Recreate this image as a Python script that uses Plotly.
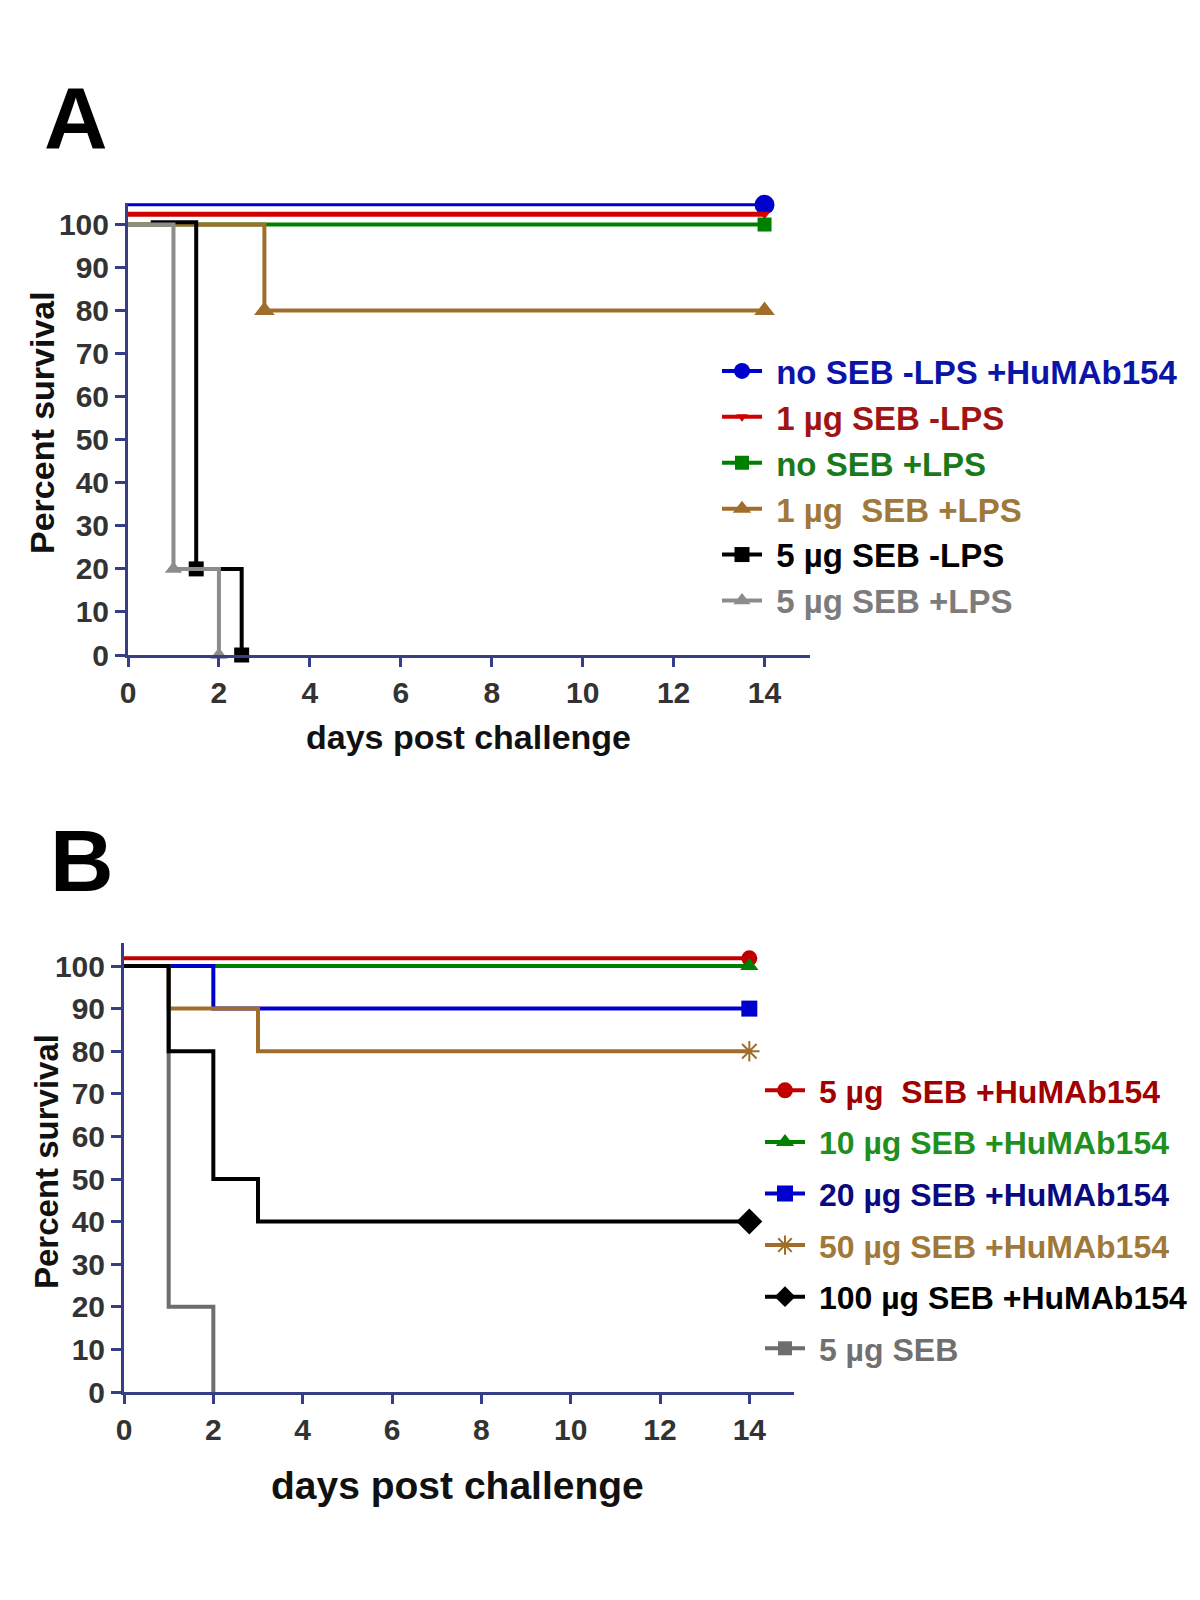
import plotly.graph_objects as go

# ---------------- Panel A data ----------------
a_labels = ["no SEB -LPS +HuMAb154", "1 µg SEB -LPS", "no SEB +LPS",
            "1 µg\u00a0\u00a0SEB +LPS", "5 µg SEB -LPS", "5 µg SEB +LPS"]
a_days = [[0, 14], [0, 14], [0, 14], [0, 3, 14], [0.5, 1.5, 2.5], [0, 1, 2]]
a_surv = [[104.6, 104.6], [102.4, 102.4], [100, 100], [100, 80, 80],
          [100.5, 20, 0], [100, 20, 0]]
a_mark = [[0, 1], [0, 1], [0, 1], [0, 1, 1], [0, 1, 1], [0, 1, 1]]

# ---------------- Panel B data ----------------
b_labels = ["5 µg\u00a0\u00a0SEB +HuMAb154", "10 µg SEB +HuMAb154", "20 µg SEB +HuMAb154",
            "50 µg SEB +HuMAb154", "100 µg SEB +HuMAb154", "5 µg SEB"]
b_days = [[0, 14], [0, 14], [0, 2, 14], [0, 1, 3, 14], [0, 1, 2, 3, 14], [0, 1, 2]]
b_surv = [[101.8, 101.8], [100, 100], [100, 90, 90], [100, 90, 80, 80],
          [100, 80, 50, 40, 40], [100, 20, 0]]
b_mark = [[0, 1], [0, 1], [0, 0, 1], [0, 0, 0, 1], [0, 0, 0, 0, 1], [0, 0, 0]]

x_ticks = [0, 2, 4, 6, 8, 10, 12, 14]
y_ticks = [0, 10, 20, 30, 40, 50, 60, 70, 80, 90, 100]

# ---------------- styles ----------------
a_line_col = ["#0000CC", "#D00000", "#008000", "#A06E2A", "#000000", "#8C8C8C"]
a_text_col = ["#0A14A8", "#A01414", "#1A7A1A", "#A0783A", "#000000", "#7C7C7C"]
a_sym = ["circle", "triangle-down", "square", "triangle-up", "square", "triangle-up"]
a_msize = [20, 10, 14, 18, 15, 15]
a_lw = [3, 5, 4, 4, 4, 4]

b_line_col = ["#C00000", "#008000", "#0000CC", "#A06E2A", "#000000", "#6E6E6E"]
b_text_col = ["#A00000", "#1F8F1F", "#0A0A80", "#A0783A", "#000000", "#707070"]
b_sym = ["circle", "triangle-up", "square", "asterisk-open", "diamond", "square"]
b_msize = [16, 16, 16, 17, 20, 14]
b_lw = [4, 4, 4, 4, 4, 4]
b_order = [0, 1, 2, 3, 5, 4]  # draw gray under black

AXC = "#373E88"
TICKC = "#333333"
FONT = "Liberation Sans, Arial, sans-serif"
W, H = 1200, 1600
OFF = 8  # page body margin


def px(x):
    return (x - OFF) / W


def py(y):
    return 1 - (y - OFF) / H


fig = go.Figure()


def add_panel(days, surv, mark, cols, syms, msz, lws, xa, ya, order):
    for i in order:
        sizes = [msz[i] if m else 0 for m in mark[i]]
        fig.add_trace(go.Scatter(
            x=days[i], y=surv[i], mode="lines+markers", line_shape="hv",
            line=dict(color=cols[i], width=lws[i]),
            marker=dict(symbol=syms[i], size=sizes, color=cols[i], opacity=1,
                        line=dict(width=2 if syms[i] == "asterisk-open" else 0, color=cols[i])),
            cliponaxis=False, showlegend=False, xaxis=xa, yaxis=ya, hoverinfo="skip"))


def add_legend(labels, tcols, cols, syms, msz, xa, ya, leg):
    for i, lab in enumerate(labels):
        fig.add_trace(go.Scatter(
            x=[None], y=[None], mode="lines+markers",
            line=dict(color=cols[i], width=4),
            marker=dict(symbol=syms[i], size=min(msz[i], 16), color=cols[i], opacity=1,
                        line=dict(width=2 if syms[i] == "asterisk-open" else 0, color=cols[i])),
            name=f"<span style='color:{tcols[i]}'>\u00a0{lab}</span>",
            legend=leg, legendgroup=f"{leg}{i}", xaxis=xa, yaxis=ya, showlegend=True))


add_panel(a_days, a_surv, a_mark, a_line_col, a_sym, a_msize, a_lw, "x", "y", range(6))
add_panel(b_days, b_surv, b_mark, b_line_col, b_sym, b_msize, b_lw, "x2", "y2", b_order)
add_legend(a_labels, a_text_col, a_line_col, a_sym, a_msize, "x", "y", "legend")
add_legend(b_labels, b_text_col, b_line_col, b_sym, b_msize, "x2", "y2", "legend2")


def xax(dom, anchor):
    return dict(domain=dom, range=[0, 15], anchor=anchor, showgrid=False, zeroline=False,
                showline=True, linecolor=AXC, linewidth=3, ticks="outside", ticklen=9,
                tickwidth=3, tickcolor=AXC, tickvals=x_ticks, automargin=False,
                tickfont=dict(family=FONT, size=30, color=TICKC, weight="bold"))


def yax(dom, anchor, top):
    return dict(domain=dom, range=[0, top], anchor=anchor, showgrid=False, zeroline=False,
                showline=True, linecolor=AXC, linewidth=3, ticks="outside", ticklen=10,
                tickwidth=3, tickcolor=AXC, tickvals=y_ticks, automargin=False,
                tickfont=dict(family=FONT, size=30, color=TICKC, weight="bold"))


ann = []


def pa(text, x, y, size, angle=0, color="#111111"):
    ann.append(dict(text=text, x=px(x), y=py(y), xref="paper", yref="paper",
                    showarrow=False, textangle=angle, xanchor="center", yanchor="middle",
                    font=dict(family=FONT, size=size, color=color, weight="bold")))


pa("A", 76, 118, 88, color="#000000")
pa("B", 82, 860, 88, color="#000000")
pa("Percent survival", 42, 423, 34, -90)
pa("days post challenge", 468, 737, 34)
pa("Percent survival", 46, 1162, 33, -90)
pa("days post challenge", 457, 1485, 39)

fig.update_layout(
    width=W, height=H, autosize=False,
    margin=dict(l=0, r=0, t=0, b=0, autoexpand=False),
    paper_bgcolor="white", plot_bgcolor="white",
    xaxis=xax([px(128), px(810)], "y"),
    yaxis=yax([py(655), py(203)], "x", 105),
    xaxis2=xax([px(124), px(794)], "y2"),
    yaxis2=yax([py(1392), py(943)], "x2", 105.4),
    legend=dict(x=px(717), y=py(343), xanchor="left", yanchor="top",
                font=dict(family=FONT, size=33, weight="bold"),
                bgcolor="rgba(0,0,0,0)", tracegroupgap=0,
                traceorder="grouped", itemwidth=40),
    legend2=dict(x=px(760), y=py(1063), xanchor="left", yanchor="top",
                 font=dict(family=FONT, size=32, weight="bold"),
                 bgcolor="rgba(0,0,0,0)", tracegroupgap=7,
                 traceorder="grouped", itemwidth=40),
    annotations=ann,
)

fig.write_html("out.html")
